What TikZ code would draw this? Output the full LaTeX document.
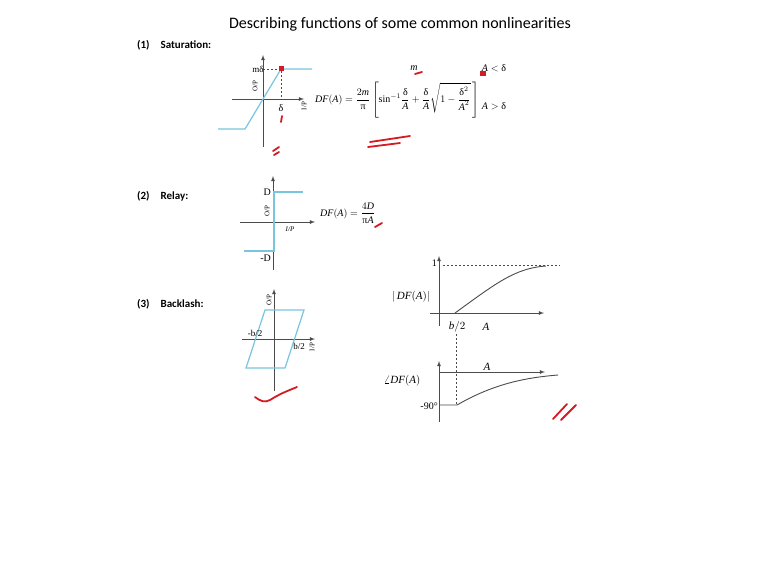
\documentclass[tikz,border=0pt]{standalone}
\usepackage{amsmath}
\usepackage{fontspec}
\setmainfont{Liberation Serif}
\newfontfamily\calibri{Carlito}
\definecolor{skyline}{RGB}{120,198,222}
\definecolor{axisgray}{RGB}{75,75,75}
\definecolor{penred}{RGB}{215,25,35}
\newcommand\itA{\textit{A}}
\newcommand\itD{\textit{D}}
\newcommand\itm{\textit{m}}
\newcommand\itDF{\textit{DF}}
\newcommand\dlt{\text{δ}}
\begin{document}
\begin{tikzpicture}[x=1pt, y=-1pt, >=latex, font=\fontsize{10}{12}\selectfont,
  axis/.style={->, draw=axisgray, line width=0.8pt},
  curve/.style={draw=skyline, line width=1.2pt},
  guide/.style={draw=axisgray, dash pattern=on 2pt off 2pt, line width=0.7pt},
  pen/.style={draw=penred, line width=1.8pt, line cap=round},
  heading/.style={font=\calibri\bfseries\fontsize{11}{13}\selectfont, anchor=west, inner sep=0pt},
  tinylbl/.style={font=\fontsize{7}{8}\selectfont, inner sep=0.5pt}]
  \useasboundingbox[fill=white] (0,0) rectangle (767,576);
  \node[font=\calibri\fontsize{16}{19}\selectfont] (title) at (400,24) {Describing functions of some common nonlinearities};
  \node[heading] (satname) at (137,45) {(1)\quad Saturation:};
  \node[heading] (relayname) at (137,196) {(2)\quad Relay:};
  \node[heading] (backname) at (137,304) {(3)\quad Backlash:};

  % (1) saturation: origin at (263,99), knee at +-(18,30)
  \draw[axis] (232,99) -- (304,99);
  \draw[axis] (263,147) -- (263,55);
  \draw[curve] (218,129) -- (245,129) -- (281,69) -- (312,69);
  \draw[guide] (263,69) -- (281,69) -- (281,99);
  \node[font=\fontsize{9}{10}\selectfont, inner sep=0.5pt] (mdel) at (258,69) {mδ};
  \node[tinylbl, rotate=90] (satout) at (255,86) {O/P};
  \node[tinylbl, rotate=90] (satin) at (304,106) {I/P};
  \node[inner sep=0.5pt] (del) at (281,108) {δ};
  \node[anchor=west, inner sep=0pt] (sateq) at (315,100)
    {$\itDF(\itA) = \dfrac{2\itm}{\text{π}}\left[\text{sin}^{-1}\dfrac{\dlt}{\itA}+\dfrac{\dlt}{\itA}\sqrt{1-\dfrac{\dlt^2}{\itA^2}}\,\right]$};
  \node[inner sep=0pt] (satm) at (414,68) {$\itm$};
  \node[inner sep=0pt] (satlo) at (494,68) {$\itA<\dlt$};
  \node[inner sep=0pt] (sathi) at (494,106) {$\itA>\dlt$};

  % (2) relay: origin at (273,222)
  \draw[axis] (240,222) -- (315,222);
  \draw[axis] (273,270) -- (273,176);
  \draw[curve] (244,251) -- (274,251) -- (274,192) -- (303,192);
  \node[anchor=east, inner sep=1pt] (dtop) at (272,192) {D};
  \node[anchor=east, inner sep=1pt] (dbot) at (272,258) {-D};
  \node[tinylbl, rotate=90] (relout) at (267,211) {O/P};
  \node[tinylbl, font=\itshape\fontsize{7}{8}\selectfont] (relin) at (290,229) {I/P};
  \node[anchor=west, inner sep=0pt] (relayeq) at (320,213) {$\itDF(\itA) = \dfrac{4\itD}{\text{π}\itA}$};

  % (3) backlash: origin at (274,339), half width b/2 = 19.5
  \draw[axis] (242,339) -- (315,339);
  \draw[axis] (274,391) -- (274,289);
  \draw[curve] (265,310) -- (304,310) -- (285,368) -- (246,368) -- cycle;
  \node[inner sep=0pt, font=\fontsize{9}{10}\selectfont] (bneg) at (255,333) {-b/2};
  \node[inner sep=0pt, font=\fontsize{9}{10}\selectfont] (bpos) at (299,346) {b/2};
  \node[tinylbl, rotate=90] (bout) at (269,300) {O/P};
  \node[tinylbl, rotate=90] (bin) at (312,347) {I/P};

  % magnitude of DF for backlash
  \draw[axis] (430,313) -- (544,313);
  \draw[axis] (439,326) -- (439,256);
  \draw[guide] (443,265) -- (560,265);
  \draw[axisgray, line width=0.9pt] (455,313) .. controls (495,284) and (515,268) .. (546,266);
  \node[anchor=east, inner sep=1pt] (one) at (438,263) {1};
  \node[font=\fontsize{11}{12}\selectfont] (mag) at (411,297) {$|\,\itDF(\itA)|$};
  \node[font=\fontsize{11}{12}\selectfont] (bhalf) at (457,327) {$\textit{b}/2$};
  \node[font=\fontsize{11}{12}\selectfont] (amag) at (486,327) {$\itA$};
  \draw[guide] (456,334) -- (456,405);

  % phase of DF for backlash
  \draw[axis] (439,422) -- (439,361);
  \draw[axis] (440,372) -- (545,372);
  \draw[axisgray, line width=0.9pt] (440,405) -- (457,405) .. controls (490,386) and (520,378) .. (558,375);
  \node[font=\fontsize{11}{12}\selectfont] (aphase) at (487,367) {$\itA$};
  \node[font=\fontsize{11}{12}\selectfont] (phase) at (402,381) {$\angle\itDF(\itA)$};
  \node[anchor=east, inner sep=1pt] (ninety) at (439,406) {-90°};

  % pen marks
  \fill[penred] (279,66) rectangle (284,71);
  \draw[pen] (282,116) -- (281,122);
  \draw[pen] (273,151) -- (279,147);
  \draw[pen] (274,155) -- (279,152);
  \draw[pen] (415,74) -- (422,72);
  \fill[penred] (480,71) rectangle (486,76);
  \draw[pen] (370,142) -- (410,136);
  \draw[pen] (368,147) -- (400,143);
  \draw[pen] (375,227) -- (382,223);
  \draw[pen] (255,397) .. controls (260,401) and (265,403) .. (270,400) .. controls (280,394) .. (297,387);
  \draw[pen] (553,419) -- (567,404);
  \draw[pen] (561,420) -- (576,405);
\end{tikzpicture}
\end{document}
